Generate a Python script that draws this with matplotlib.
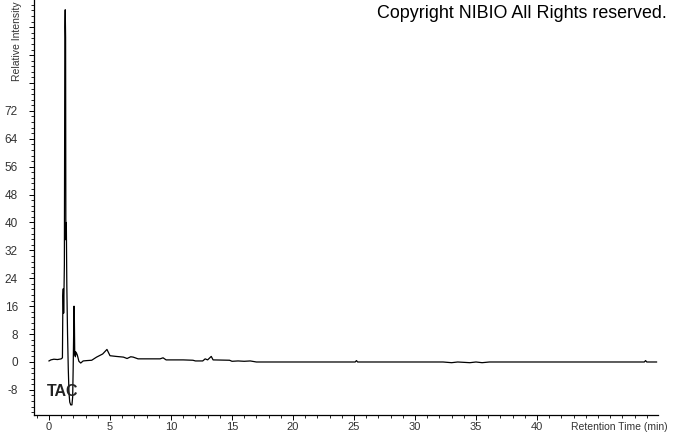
import matplotlib
matplotlib.use("Agg")
import matplotlib.pyplot as plt
from matplotlib.ticker import MultipleLocator

plt.rcParams['font.family'] = ['Liberation Sans', 'DejaVu Sans']

# Retention time (min) and relative intensity
rt = [0.00, 0.15, 0.40, 0.70, 1.00, 1.10, 1.14, 1.17, 1.20, 1.22, 1.26, 1.30,
      1.33, 1.36, 1.38, 1.40, 1.42, 1.46, 1.52, 1.58, 1.64, 1.70, 1.78, 1.88,
      1.94, 1.98, 2.02, 2.05, 2.08, 2.11, 2.12, 2.16, 2.22, 2.32, 2.45, 2.60,
      2.80, 3.10, 3.50, 3.90, 4.40, 4.75, 5.00, 5.50, 6.10, 6.40, 6.70, 6.90,
      7.30, 8.00, 9.10, 9.35, 9.60, 11.0, 11.8, 12.0, 12.6, 12.8, 13.0, 13.3,
      13.45, 14.8, 15.0, 15.5, 16.0, 16.5, 17.0, 25.1, 25.2, 25.3, 32.3, 33.0,
      33.5, 34.5, 35.0, 35.5, 36.1, 48.8, 48.9, 49.0, 49.8]
intensity = [0.3, 0.6, 0.8, 0.7, 0.9, 1.2, 19, 21, 14, 18, 28, 96,
             101, 93, 41, 35, 40, 22, 8, -2, -9, -11.5, -12.3, -12.3,
             -10, -2, 8, 16, 12, 2, 3, 1.5, 2.8, 2.0, 0.2, -0.3,
             0.3, 0.4, 0.5, 1.4, 2.3, 3.6, 1.8, 1.6, 1.4, 1.0, 1.5, 1.4,
             0.9, 0.9, 0.9, 1.2, 0.6, 0.6, 0.5, 0.3, 0.3, 0.9, 0.6, 1.6,
             0.6, 0.5, 0.2, 0.3, 0.2, 0.3, 0.0, 0.0, 0.4, 0.0, 0.0, -0.2,
             0.0, -0.2, 0.0, -0.2, 0.0, 0.0, 0.4, 0.0, 0.0]

x_ticks = [0, 5, 10, 15, 20, 25, 30, 35, 40]
y_ticks = [-8, 0, 8, 16, 24, 32, 40, 48, 56, 64, 72, 80, 88, 96]
y_labels = ['-8', '0', '8', '16', '24', '32', '40', '48', '56', '64', '72', '', '', '']

W, H = 674, 434
fig = plt.figure(figsize=(W / 100, H / 100), dpi=100)
ax = fig.add_axes([34 / W, 19 / H, (658 - 34) / W, (H - 19) / H])

ax.plot(rt, intensity, color='black', lw=0.9)

ax.set_xlim(-1.23, 49.92)
ax.set_ylim(-15.2, 103.8)

for s in ['top', 'right']:
    ax.spines[s].set_visible(False)
for s in ['left', 'bottom']:
    ax.spines[s].set_linewidth(0.9)

ax.set_xticks(x_ticks)
ax.set_xticklabels([str(v) for v in x_ticks])
ax.xaxis.set_minor_locator(MultipleLocator(1))
ax.set_yticks(y_ticks)
ax.set_yticklabels(y_labels)
ax.yaxis.set_minor_locator(MultipleLocator(1.6))
ax.tick_params(axis='both', which='major', length=3.6, width=0.7,
               labelcolor='#333333')
ax.tick_params(axis='y', which='major', pad=8, labelsize=8.5)
ax.tick_params(axis='x', which='major', pad=1.5, labelsize=8)
ax.tick_params(axis='both', which='minor', length=2, width=0.6)

fig.text(668 / W, 1 - 427 / H, 'Retention Time (min)', fontsize=7.5,
         color='#333333', ha='right', va='center')
fig.text(17 / W, 1 - 81 / H, 'Relative Intensity', fontsize=7.5,
         color='#333333', ha='center', va='bottom', rotation=90)
fig.text(47 / W, 1 - 392 / H, 'TAC', fontsize=11.5, fontweight='bold',
         color='#222222', ha='left', va='center')
fig.text(667 / W, 1 - 14 / H, 'Copyright NIBIO All Rights reserved.',
         fontsize=12.9, color='black', ha='right', va='center')

fig.savefig('out.png', dpi=100)
